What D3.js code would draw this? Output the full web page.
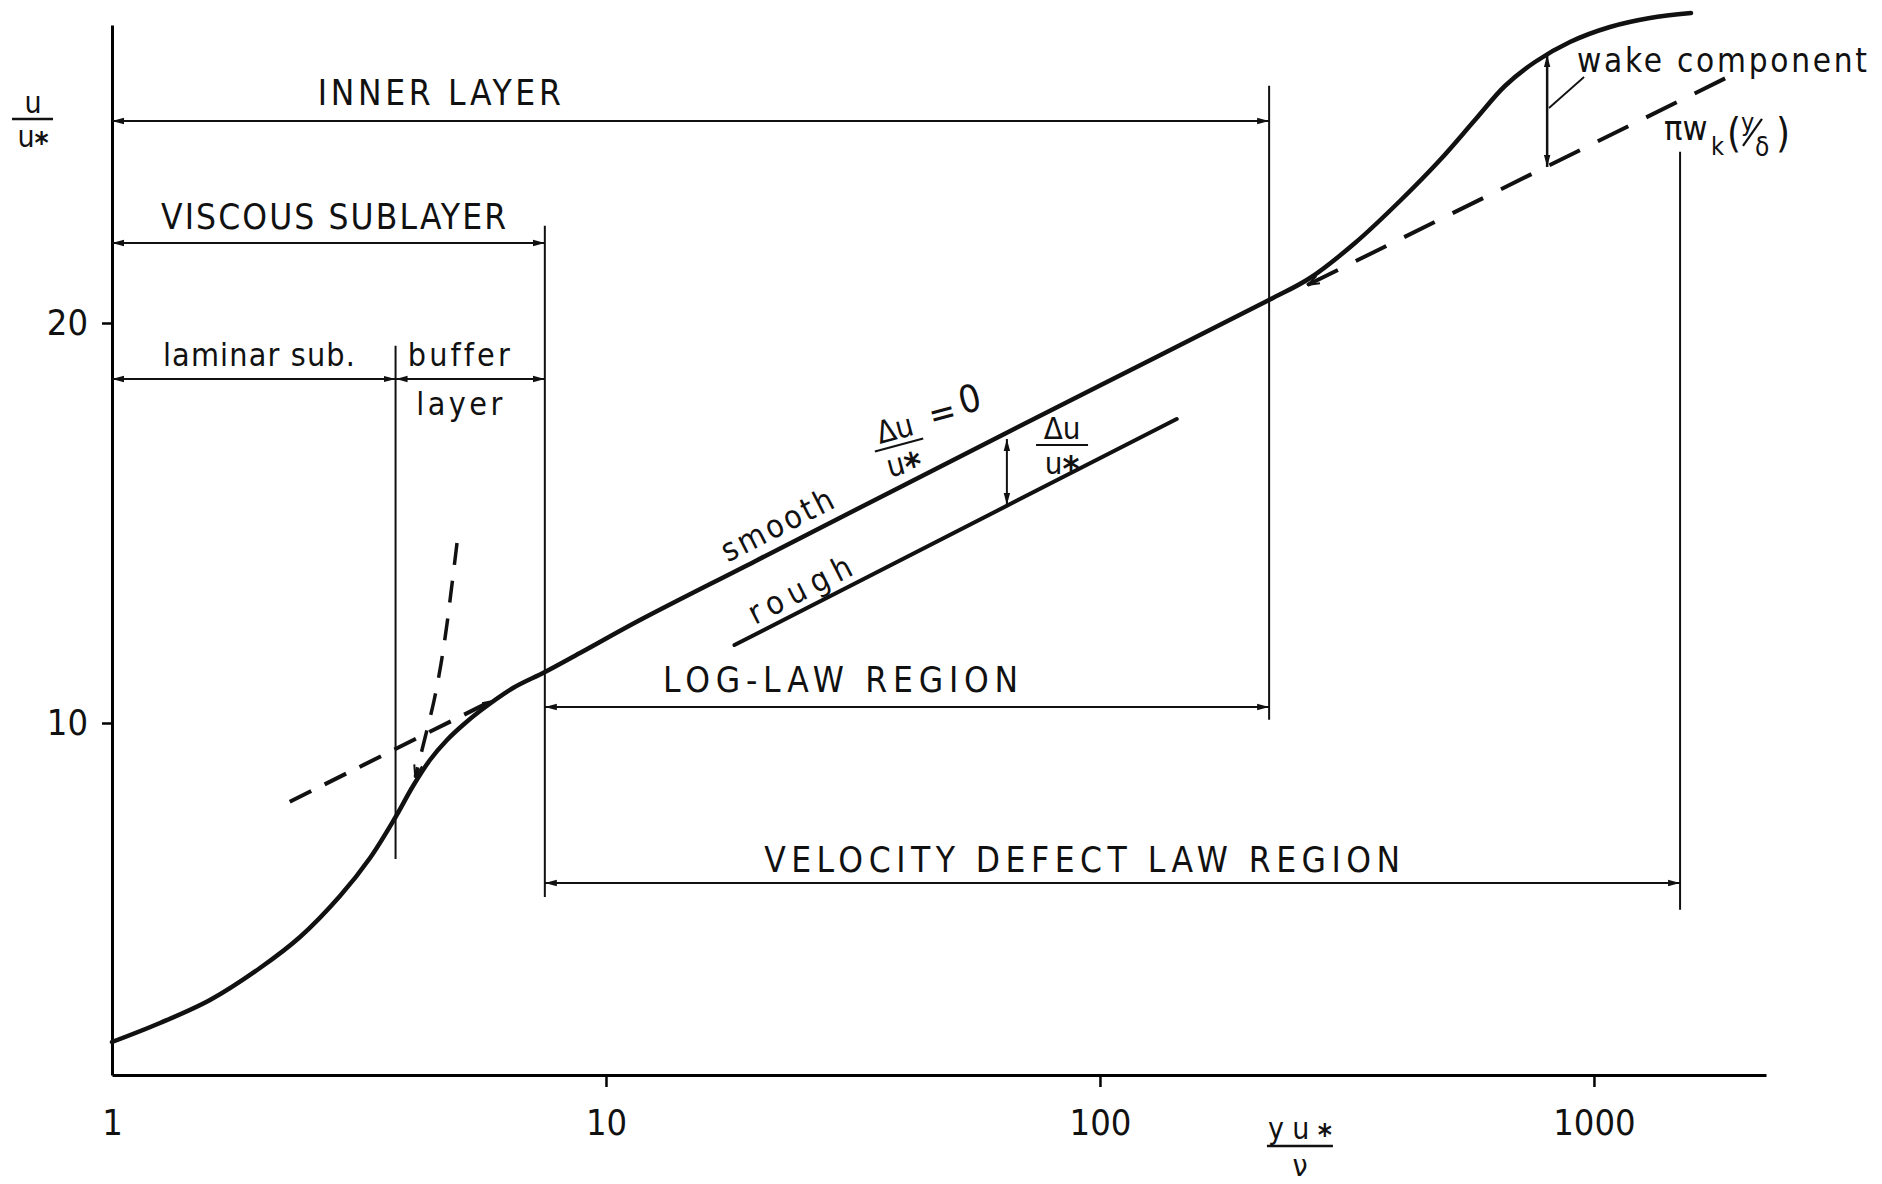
<!DOCTYPE html>
<html>
<head>
<meta charset="utf-8">
<script src="https://cdn.jsdelivr.net/npm/d3@7"></script>
<style>
body { margin: 0; background: #fff; }
text { font-family: 'DejaVu Sans Condensed', 'Liberation Sans Narrow', 'DejaVu Sans', sans-serif; fill: #111; font-variant-ligatures: none; }
</style>
</head>
<body>
<svg id="chart" width="1882" height="1184"></svg>
<script>
// velocity profile sketch, u/u* against y u*/nu (log axis)
// values

var xTicks = [1, 10, 100, 1000];
var yTicks = [10, 20];

// solid profile: viscous -> buffer -> log law -> wake
var profileX = [1, 1.251, 1.579, 1.993, 2.402, 2.894, 3.329, 3.74, 4.068, 4.402, 4.766, 5.134, 5.558, 6.482, 7.524, 8.858, 11.72,
                20, 40, 100, 219.9, 266.2, 328.3, 404.8, 487.9, 574.3, 660.3, 759.6, 894.2, 1077.5, 1298.3, 1571.9];
var profileU = [2.025, 2.5, 3.075, 3.875, 4.65, 5.675, 6.625, 7.625, 8.425, 9.075, 9.575, 9.95, 10.3, 10.875, 11.275, 11.75, 12.575,
                14.04, 15.94, 18.44, 20.575, 21.125, 22.0, 23.05, 24.075, 25.075, 25.925, 26.525, 27.025, 27.4, 27.625, 27.75];

// rough wall log line
var roughX = [18.2, 143];
var roughU = [11.95, 17.6];

// dashed: log law carried on under the wake
var wakeBaseX = [263, 1902];
var wakeBaseU = [20.95, 26.2];

// dashed: log law carried down into buffer layer
var logDownX = [2.29, 5.93];
var logDownU = [8.03, 10.58];

// dashed: linear sublayer law carried up
var linearX = [4.994, 4.879, 4.766, 4.634, 4.485, 4.301, 4.11];
var linearU = [14.5, 13.475, 12.475, 11.475, 10.55, 9.625, 8.65];

// thin vertical region borders
var borderX = [3.75, 7.52, 220, 1494];
var borderTop = [19.43, 22.43, 25.93, 24.28];
var borderBottom = [6.6, 5.65, 10.08, 5.33];

// dimension arrows for the regions
var spanName = ["INNER LAYER", "VISCOUS SUBLAYER", "laminar sub.", "buffer", "LOG-LAW REGION", "VELOCITY DEFECT LAW REGION"];
var spanFrom = [1, 1, 1, 3.75, 7.52, 7.52];
var spanTo = [220, 7.52, 3.75, 7.52, 220, 1494];
var spanU = [25.05, 22.0, 18.6, 18.6, 10.4, 6.0];

// delta u arrow (smooth vs rough) and wake component arrow
var deltaX = 64.8, deltaU = [17.1, 15.45];
var wakeArrowX = 804, wakeArrowU = [26.7, 23.9];

var svg = d3.select("#chart");

var x = d3.scaleLog().domain([1, 2230]).range([112, 1766]);
var y = d3.scaleLinear().domain([1.2, 27.45]).range([1075, 25]);

var zip = function(a, b) { return a.map(function(d, i) { return [d, b[i]]; }); };
var line = d3.line().x(function(d) { return x(d[0]); }).y(function(d) { return y(d[1]); });

// markers
var defs = svg.append("defs");
defs.append("marker")
    .attr("id", "head")
    .attr("viewBox", "0 0 12 8")
    .attr("refX", 12).attr("refY", 4)
    .attr("markerWidth", 12).attr("markerHeight", 8)
    .attr("markerUnits", "userSpaceOnUse")
    .attr("orient", "auto-start-reverse")
    .append("path").attr("d", "M0,0.8L12,4L0,7.2Z").attr("fill", "#111");
defs.append("marker")
    .attr("id", "vee")
    .attr("viewBox", "-1 -1 14 10")
    .attr("refX", 12).attr("refY", 4)
    .attr("markerWidth", 14).attr("markerHeight", 10)
    .attr("markerUnits", "userSpaceOnUse")
    .attr("orient", "auto-start-reverse")
    .append("path").attr("d", "M0,0L12,4L0,8").attr("fill", "none")
    .attr("stroke", "#111").attr("stroke-width", 2);

// axes
var xAxis = d3.axisBottom(x).tickValues(xTicks).tickFormat(d3.format("d"))
    .tickSize(12).tickSizeOuter(0).tickPadding(22);
var gx = svg.append("g").attr("transform", "translate(0," + y(1.2) + ")").call(xAxis);
gx.attr("font-family", null).attr("font-size", null);
gx.select(".domain").attr("stroke-width", 3);
gx.selectAll(".tick line").attr("stroke-width", 2.5).filter(function(d) { return d === 1; }).remove();
gx.selectAll(".tick text").style("font-size", "36px");

var yAxis = d3.axisLeft(y).tickValues(yTicks).tickSize(10).tickSizeOuter(0).tickPadding(14);
var gy = svg.append("g").attr("transform", "translate(" + x(1) + ",0)").call(yAxis);
gy.attr("font-family", null).attr("font-size", null);
gy.select(".domain").attr("stroke-width", 3);
gy.selectAll(".tick line").attr("stroke-width", 2.5);
gy.selectAll(".tick text").style("font-size", "36px");

// axis titles, u/u* and yu*/nu
var yt = svg.append("g").attr("transform", "translate(" + (x(1) - 79) + "," + (y(27.45) + 94) + ")");
yt.append("text").attr("text-anchor", "middle").attr("y", -6).style("font-size", "30px").text("u");
yt.append("line").attr("x1", -21).attr("x2", 20).attr("stroke", "#111").attr("stroke-width", 2.5);
yt.append("text").attr("text-anchor", "middle").attr("y", 28).style("font-size", "30px")
    .text("u").append("tspan").attr("dy", "0.2em").style("font-weight", "bold").text("*");

var xt = svg.append("g").attr("transform", "translate(" + x(254) + "," + (y(1.2) + 71) + ")");
xt.append("text").attr("text-anchor", "middle").attr("y", -7).attr("textLength", 64).style("font-size", "30px")
    .text("yu").append("tspan").attr("dy", "0.2em").style("font-weight", "bold").text("*");
xt.append("line").attr("x1", -33).attr("x2", 33).attr("stroke", "#111").attr("stroke-width", 2.5);
xt.append("text").attr("text-anchor", "middle").attr("y", 30).style("font-size", "30px").text("ν");

// region borders
svg.append("g").selectAll("line").data(borderX).enter().append("line")
    .attr("x1", function(d) { return x(d); }).attr("x2", function(d) { return x(d); })
    .attr("y1", function(d, i) { return y(borderTop[i]); })
    .attr("y2", function(d, i) { return y(borderBottom[i]); })
    .attr("stroke", "#111").attr("stroke-width", 2);

// region dimension arrows
svg.append("g").selectAll("line").data(spanName).enter().append("line")
    .attr("x1", function(d, i) { return x(spanFrom[i]); })
    .attr("x2", function(d, i) { return x(spanTo[i]); })
    .attr("y1", function(d, i) { return y(spanU[i]); })
    .attr("y2", function(d, i) { return y(spanU[i]); })
    .attr("stroke", "#111").attr("stroke-width", 2)
    .attr("marker-start", "url(#head)").attr("marker-end", "url(#head)");

// region labels: [text, x start, baseline u, length, font size]
var spanLabels = [
    ["INNER LAYER", 2.61, 25.45, 243, 35],
    ["VISCOUS SUBLAYER", 1.257, 22.35, 345, 35],
    ["laminar sub.", 1.268, 18.93, 192, 32],
    ["buffer", 3.97, 18.93, 102, 32],
    ["layer", 4.13, 17.7, 86, 32],
    ["LOG-LAW REGION", 13.05, 10.78, 355, 35],
    ["VELOCITY DEFECT LAW REGION", 20.9, 6.28, 636, 35]
];
svg.append("g").selectAll("text").data(spanLabels).enter().append("text")
    .attr("x", function(d) { return x(d[1]); })
    .attr("y", function(d) { return y(d[2]); })
    .attr("textLength", function(d) { return d[3]; })
    .attr("lengthAdjust", "spacing")
    .style("font-size", function(d) { return d[4] + "px"; })
    .text(function(d) { return d[0]; });

// dashed asymptotes
svg.append("path").datum(zip(logDownX, logDownU)).attr("d", line)
    .attr("fill", "none").attr("stroke", "#111").attr("stroke-width", 4)
    .attr("stroke-dasharray", "24,15").attr("marker-end", "url(#head)");
svg.append("path").datum(zip(linearX, linearU)).attr("d", line.curve(d3.curveMonotoneY))
    .attr("fill", "none").attr("stroke", "#111").attr("stroke-width", 3.5)
    .attr("stroke-dasharray", "22,16").attr("marker-end", "url(#vee)");
line.curve(d3.curveLinear);
svg.append("path").datum(zip(wakeBaseX, wakeBaseU)).attr("d", line)
    .attr("fill", "none").attr("stroke", "#111").attr("stroke-width", 4)
    .attr("stroke-dasharray", "34,20").attr("marker-start", "url(#vee)");

// profile and rough line
svg.append("path").datum(zip(profileX, profileU)).attr("d", line.curve(d3.curveCatmullRom.alpha(0.5)))
    .attr("fill", "none").attr("stroke", "#111").attr("stroke-width", 4.5).attr("stroke-linecap", "round");
line.curve(d3.curveLinear);
svg.append("path").datum(zip(roughX, roughU)).attr("d", line)
    .attr("fill", "none").attr("stroke", "#111").attr("stroke-width", 4).attr("stroke-linecap", "round");

// delta u and wake arrows
svg.append("line").attr("x1", x(deltaX)).attr("x2", x(deltaX))
    .attr("y1", y(deltaU[0])).attr("y2", y(deltaU[1]))
    .attr("stroke", "#111").attr("stroke-width", 2)
    .attr("marker-start", "url(#head)").attr("marker-end", "url(#head)");
svg.append("line").attr("x1", x(wakeArrowX)).attr("x2", x(wakeArrowX))
    .attr("y1", y(wakeArrowU[0])).attr("y2", y(wakeArrowU[1]))
    .attr("stroke", "#111").attr("stroke-width", 2.5)
    .attr("marker-start", "url(#head)").attr("marker-end", "url(#head)");
// leader from label to wake arrow
svg.append("line").attr("x1", x(955)).attr("y1", y(26.15)).attr("x2", x(811)).attr("y2", y(25.375))
    .attr("stroke", "#111").attr("stroke-width", 1.8);

// smooth / rough along the lines
var ang = Math.atan2(y(20.6) - y(12.57), x(220) - x(11.7)) * 180 / Math.PI;
svg.append("text").attr("text-anchor", "middle").attr("dominant-baseline", "central")
    .attr("transform", "translate(" + x(22.2) + "," + y(14.95) + ") rotate(" + ang + ")")
    .attr("textLength", 122).attr("lengthAdjust", "spacing")
    .style("font-size", "32px").text("smooth");
svg.append("text").attr("text-anchor", "middle").attr("dominant-baseline", "central")
    .attr("transform", "translate(" + x(24.7) + "," + y(13.33) + ") rotate(" + ang + ")")
    .attr("textLength", 112).attr("lengthAdjust", "spacing")
    .style("font-size", "32px").text("rough");

// fraction helper: du over u*
function fraction(g, w) {
    g.append("text").attr("text-anchor", "middle").attr("y", -6).style("font-size", "31px").text("Δu");
    g.append("line").attr("x1", -w / 2).attr("x2", w / 2).attr("stroke", "#111").attr("stroke-width", 2.2);
    g.append("text").attr("text-anchor", "middle").attr("y", 29).style("font-size", "31px")
        .text("u").append("tspan").attr("dy", "0.2em").style("font-weight", "bold").style("font-size", "36px").text("*");
}
var f1 = svg.append("g").attr("transform", "translate(" + x(39.2) + "," + y(16.95) + ") rotate(-15)");
fraction(f1, 50);
f1.append("text").attr("x", 50).attr("y", -20).attr("text-anchor", "middle").attr("dominant-baseline", "central")
    .style("font-size", "36px").text("=");
f1.append("text").attr("x", 80).attr("y", -26).attr("text-anchor", "middle").attr("dominant-baseline", "central")
    .style("font-size", "38px").text("0");
var f2 = svg.append("g").attr("transform", "translate(" + x(83.8) + "," + y(16.95) + ")");
fraction(f2, 52);

// wake labels
svg.append("text").attr("x", x(924)).attr("y", y(26.28))
    .attr("textLength", 290).attr("lengthAdjust", "spacing")
    .style("font-size", "33px").text("wake component");
var pw = svg.append("g").attr("transform", "translate(" + x(1386) + "," + y(24.58) + ")");
pw.append("text").style("font-size", "34px").text("πw");
pw.append("text").attr("x", 47).attr("y", 15).style("font-size", "25px").text("k");
pw.append("text").attr("x", 63).attr("y", 7).style("font-size", "40px").text("(");
pw.append("text").attr("x", 77).attr("y", -9).style("font-size", "25px").text("y");
pw.append("line").attr("x1", 79).attr("y1", 6).attr("x2", 98).attr("y2", -21)
    .attr("stroke", "#111").attr("stroke-width", 2.2);
pw.append("text").attr("x", 91).attr("y", 16).style("font-size", "26px").text("δ");
pw.append("text").attr("x", 112).attr("y", 7).style("font-size", "40px").text(")");
</script>
</body>
</html>
